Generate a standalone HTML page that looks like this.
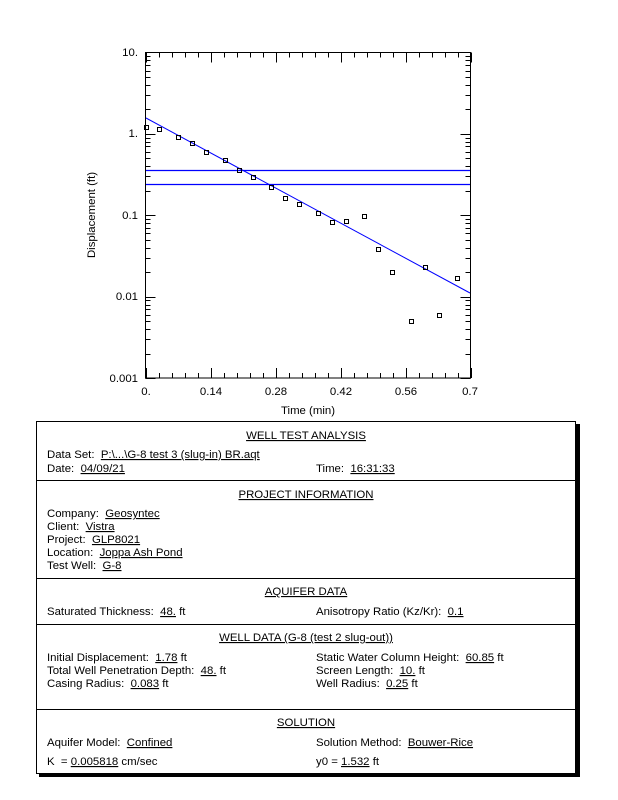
<!DOCTYPE html>
<html><head><meta charset="utf-8"><style>
body{margin:0;background:#fff}
svg{display:block}
text{font-family:"Liberation Sans",sans-serif;font-size:11.4px;fill:#000;white-space:pre}
.u{text-decoration:underline}
</style></head><body>
<svg width="618" height="800" viewBox="0 0 618 800" xmlns="http://www.w3.org/2000/svg" xml:space="preserve">
<g id="ticks" stroke="#000" stroke-width="1" shape-rendering="crispEdges"></g>
<rect x="145.5" y="52.5" width="325" height="325.5" fill="none" stroke="#000" shape-rendering="crispEdges"/>
<line x1="146" y1="170.5" x2="470" y2="170.5" stroke="#0000ff" stroke-width="1.2"/>
<line x1="146" y1="184.5" x2="470" y2="184.5" stroke="#0000ff" stroke-width="1.2"/>
<line x1="146" y1="118" x2="470" y2="293" stroke="#0000ff" stroke-width="1"/>
<g id="pts" fill="none" stroke="#000" stroke-width="1"></g>
<g text-anchor="end">
<text x="138" y="56">10.</text><text x="138" y="137">1.</text><text x="138" y="219">0.1</text><text x="138" y="300">0.01</text><text x="138" y="382">0.001</text>
</g>
<g text-anchor="middle">
<text x="146" y="395">0.</text><text x="211" y="395">0.14</text><text x="276" y="395">0.28</text><text x="341" y="395">0.42</text><text x="406" y="395">0.56</text><text x="470" y="395">0.7</text>
<text x="308" y="414">Time (min)</text>
</g>
<text transform="translate(95,215) rotate(-90)" text-anchor="middle">Displacement (ft)</text>

<rect x="39" y="424" width="541" height="353" fill="#000"/>
<rect x="36.5" y="421.5" width="539" height="352" fill="#fff" stroke="#000"/>
<g stroke="#000" shape-rendering="crispEdges">
<line x1="36" y1="480.5" x2="576" y2="480.5"/><line x1="36" y1="578.5" x2="576" y2="578.5"/>
<line x1="36" y1="624.5" x2="576" y2="624.5"/><line x1="36" y1="709.5" x2="576" y2="709.5"/>
</g>
<g text-anchor="middle">
<text x="306" y="439" class="u">WELL TEST ANALYSIS</text>
<text x="306" y="498" class="u">PROJECT INFORMATION</text>
<text x="306" y="595" class="u">AQUIFER DATA</text>
<text x="306" y="641" class="u">WELL DATA (G-8 (test 2 slug-out))</text>
<text x="306" y="726" class="u">SOLUTION</text>
</g>
<text x="47" y="458">Data Set:  <tspan class="u">P:\...\G-8 test 3 (slug-in) BR.aqt</tspan></text>
<text x="47" y="472">Date:  <tspan class="u">04/09/21</tspan></text>
<text x="316" y="472">Time:  <tspan class="u">16:31:33</tspan></text>
<text x="47" y="517">Company:  <tspan class="u">Geosyntec</tspan></text>
<text x="47" y="530">Client:  <tspan class="u">Vistra</tspan></text>
<text x="47" y="543">Project:  <tspan class="u">GLP8021</tspan></text>
<text x="47" y="556">Location:  <tspan class="u">Joppa Ash Pond</tspan></text>
<text x="47" y="569">Test Well:  <tspan class="u">G-8</tspan></text>
<text x="47" y="615">Saturated Thickness:  <tspan class="u">48.</tspan> ft</text>
<text x="316" y="615">Anisotropy Ratio (Kz/Kr):  <tspan class="u">0.1</tspan></text>
<text x="47" y="661">Initial Displacement:  <tspan class="u">1.78</tspan> ft</text>
<text x="47" y="674">Total Well Penetration Depth:  <tspan class="u">48.</tspan> ft</text>
<text x="47" y="687">Casing Radius:  <tspan class="u">0.083</tspan> ft</text>
<text x="316" y="661">Static Water Column Height:  <tspan class="u">60.85</tspan> ft</text>
<text x="316" y="674">Screen Length:  <tspan class="u">10.</tspan> ft</text>
<text x="316" y="687">Well Radius:  <tspan class="u">0.25</tspan> ft</text>
<text x="47" y="746">Aquifer Model:  <tspan class="u">Confined</tspan></text>
<text x="316" y="746">Solution Method:  <tspan class="u">Bouwer-Rice</tspan></text>
<text x="47" y="765">K  = <tspan class="u">0.005818</tspan> cm/sec</text>
<text x="316" y="765">y0 = <tspan class="u">1.532</tspan> ft</text>
</svg>
<script>
var ns="http://www.w3.org/2000/svg";
var t=document.getElementById("ticks");
function L(x1,y1,x2,y2){var l=document.createElementNS(ns,"line");l.setAttribute("x1",x1);l.setAttribute("y1",y1);l.setAttribute("x2",x2);l.setAttribute("y2",y2);t.appendChild(l);}
var x0=145.5,x1=470.5,yT=52.5,yB=378;
for(var i=0;i<=25;i++){var x=Math.round(x0+i*(x1-x0)/25)+0.5;var len=(i%5==0)?10:5;L(x,yB,x,yB-len);L(x,yT,x,yT+len);}
var dec=(yB-yT)/4;
for(var d=0;d<4;d++){for(var k=1;k<10;k++){var y=Math.round(yB-d*dec-Math.log10(k)*dec)+0.5;var len=(k==1)?10:5;L(x0,y,x0+len,y);L(x1,y,x1-len,y);}}
var p=[[146,127.3],[159,128.7],[177.7,136.7],[192,143],[206,151.7],[224.7,159.7],[238.7,169.7],[252.7,176.7],[270.7,186.7],[285,198],[299,203.7],[317.7,212.7],[332,221.7],[346,220.7],[364,215.7],[378,249],[392,271.7],[411,320.7],[425,267],[439,314.7],[457,277.7]];
var g=document.getElementById("pts");
p.forEach(function(q){var r=document.createElementNS(ns,"rect");r.setAttribute("x",Math.round(q[0])-1.5);r.setAttribute("y",Math.round(q[1])-1.5);r.setAttribute("width",4);r.setAttribute("height",4);g.appendChild(r);});
</script>
</body></html>
